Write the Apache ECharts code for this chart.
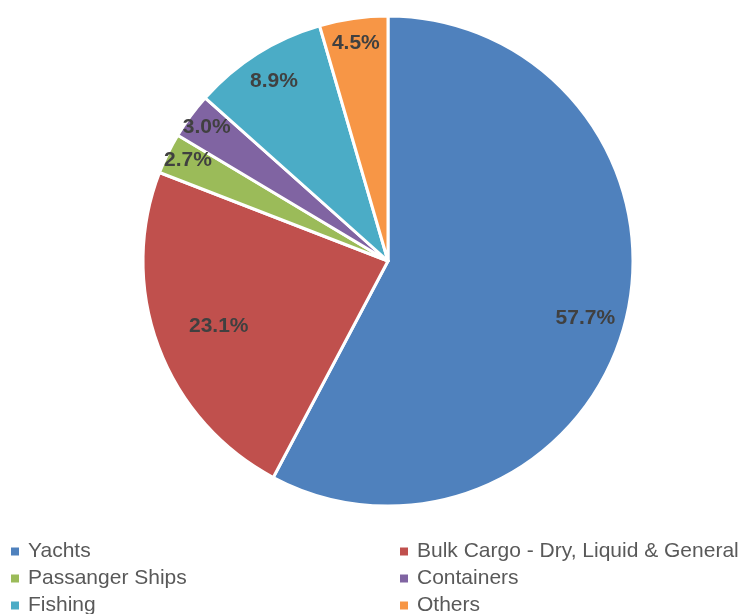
<!DOCTYPE html>
<html><head><meta charset="utf-8">
<script src="https://cdn.jsdelivr.net/npm/echarts@6/dist/echarts.min.js"></script>
<style>html,body{margin:0;padding:0;background:#fff}#c{width:746px;height:614px}</style>
</head><body><div id="c"></div>
<script>
const categories = ['Yachts','Bulk Cargo - Dry, Liquid & General','Passanger Ships','Containers','Fishing','Others'];
const shares = [57.7, 23.1, 2.7, 3.0, 8.9, 4.5];
const colors = ['#4F81BD','#C0504D','#9BBB59','#8064A2','#4BACC6','#F79646'];
const labelNudges = [[-10,6],[31,-9],[-8,-7],[-9,-7],[0,1],[-2,-6]];
const legendCols = [9, 398];
const legendRows = [541, 568, 595];

const R = 245;
const chart = echarts.init(document.getElementById('c'));
const mainData = categories.map((n,i)=>({name:n,value:shares[i],itemStyle:{color:colors[i]}}));
const labelData = categories.map((n,i)=>({name:n,value:shares[i],label:{offset:labelNudges[i]}}));
const legendText = {fontFamily:'Liberation Sans',fontSize:21,color:'#595959',lineHeight:18,padding:[0,0,0,3]};
const legends = categories.map((n,i)=>({
  data:[n],orient:'horizontal',left:legendCols[i%2],top:legendRows[Math.floor(i/2)],padding:0,
  itemWidth:10,itemHeight:10,icon:'rect',textStyle:legendText,selectedMode:false
}));
chart.setOption({
  animation:false,
  legend:legends,
  series:[
    {type:'pie',center:[388,261],radius:[0,R],startAngle:90,clockwise:true,
     data:mainData,label:{show:false},labelLine:{show:false},
     itemStyle:{borderColor:'#fff',borderWidth:3},emphasis:{disabled:true}},
    {type:'pie',center:[388,261],radius:[R*0.72,R],startAngle:90,clockwise:true,silent:true,
     data:labelData,itemStyle:{color:'rgba(0,0,0,0)',borderWidth:0},labelLine:{show:false},
     emphasis:{disabled:true},legendHoverLink:false,
     label:{show:true,position:'inside',formatter:p=>p.value.toFixed(1)+'%',
       fontFamily:'Liberation Sans',fontWeight:'bold',fontSize:21,color:'#404040'}}
  ]
});
</script></body></html>
